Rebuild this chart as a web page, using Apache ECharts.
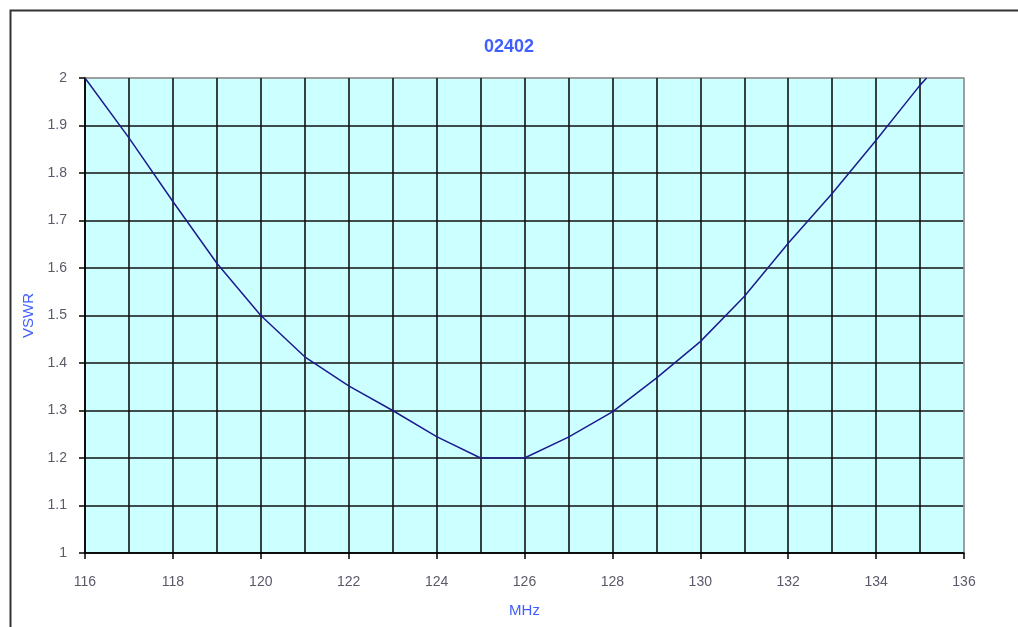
<!DOCTYPE html>
<html>
<head>
<meta charset="utf-8">
<script src="https://cdn.jsdelivr.net/npm/echarts@6/dist/echarts.min.js"></script>
<style>html,body{margin:0;padding:0;background:#fff;}#c{width:1018px;height:627px;}</style>
</head>
<body>
<div id="c"></div>
<script>
const titleText = "02402";
const xName = "MHz";
const yName = "VSWR";
const freqs = [116, 117, 118, 119, 120, 121, 122, 123, 124, 125, 126, 127, 128, 129, 130, 131, 132, 133, 134, 135, 135.15];
const vswr  = [2.0, 1.874, 1.74, 1.61, 1.5, 1.413, 1.352, 1.30, 1.245, 1.20, 1.20, 1.244, 1.297, 1.368, 1.445, 1.54, 1.652, 1.757, 1.869, 1.985, 2.0];

const chart = echarts.init(document.getElementById('c'), null, {renderer: 'canvas'});
const labelFont = {color: '#5a5a6a', fontFamily: 'Liberation Sans Narrow, Liberation Sans, Arial', fontSize: 14};
const gridCol = '#111';
const edgeCol = '#9a9a9a';
const xSplitColors = Array.from({length: 11}, (_, i) => i === 10 ? edgeCol : gridCol);
const ySplitColors = Array.from({length: 11}, (_, i) => i === 10 ? edgeCol : gridCol);
chart.setOption({
  animation: false,
  backgroundColor: '#ffffff',
  graphic: [{
    type: 'rect', left: 8, top: 8, shape: {width: 1040, height: 650},
    style: {fill: 'none', stroke: '#333', lineWidth: 2}, silent: true, z: -1
  }],
  title: {
    text: titleText, left: 'center', top: 33,
    textStyle: {color: '#3f5fff', fontFamily: 'Liberation Sans Narrow, Liberation Sans, Arial', fontWeight: 'bold', fontSize: 18}
  },
  grid: {
    left: 85, right: 54, top: 78, bottom: 74,
    show: true, backgroundColor: '#ccffff', borderColor: edgeCol, borderWidth: 1.5
  },
  xAxis: {
    type: 'value', min: 116, max: 136, interval: 2,
    name: xName, nameLocation: 'middle', nameGap: 50,
    nameTextStyle: {color: '#3f5fff', fontFamily: 'Liberation Sans Narrow, Liberation Sans, Arial', fontSize: 15},
    axisLine: {show: true, onZero: false, lineStyle: {color: '#000', width: 1.5}},
    axisTick: {show: true, length: 6, lineStyle: {color: '#000', width: 1.5}},
    axisLabel: Object.assign({margin: 22}, labelFont),
    splitLine: {show: true, lineStyle: {color: xSplitColors, width: 1.6}},
    minorTick: {show: false, splitNumber: 2},
    minorSplitLine: {show: true, lineStyle: {color: gridCol, width: 1.6}}
  },
  yAxis: {
    type: 'value', min: 1, max: 2, interval: 0.1,
    name: yName, nameLocation: 'middle', nameGap: 47, nameRotate: 90,
    nameTextStyle: {color: '#3f5fff', fontFamily: 'Liberation Sans Narrow, Liberation Sans, Arial', fontSize: 15},
    axisLine: {show: true, onZero: false, lineStyle: {color: '#000', width: 1.5}},
    axisTick: {show: true, length: 6, lineStyle: {color: '#000', width: 1.5}},
    axisLabel: Object.assign({margin: 18}, labelFont),
    splitLine: {show: true, lineStyle: {color: ySplitColors, width: 1.6}}
  },
  series: [{
    type: 'line',
    data: freqs.map((f, i) => [f, vswr[i]]),
    showSymbol: false, symbol: 'none', clip: true,
    lineStyle: {color: '#1c1c8e', width: 1.5}
  }]
});
</script>
</body>
</html>
